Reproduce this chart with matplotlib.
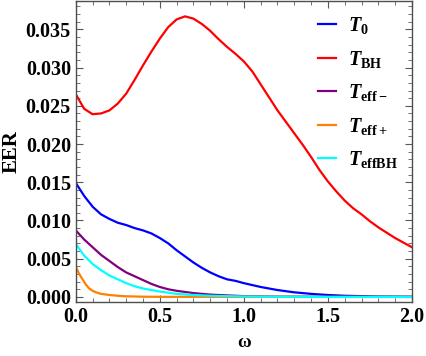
import matplotlib
matplotlib.use("Agg")
import matplotlib.pyplot as plt
from matplotlib.ticker import MultipleLocator

plt.rcParams['font.family'] = 'Liberation Serif'
plt.rcParams['font.weight'] = 'bold'
plt.rcParams['mathtext.fontset'] = 'custom'
plt.rcParams['mathtext.rm'] = 'Liberation Serif:bold'
plt.rcParams['mathtext.it'] = 'Liberation Serif:bold:italic'
plt.rcParams['mathtext.bf'] = 'Liberation Serif:bold'

## data
w_bh = [0, 0.05, 0.1, 0.15, 0.2, 0.25, 0.3, 0.35, 0.4, 0.45, 0.5, 0.55, 0.6, 0.65,
        0.7, 0.75, 0.8, 0.85, 0.9, 0.95, 1.0, 1.05, 1.1, 1.15, 1.2, 1.25, 1.3, 1.35, 1.4, 1.45,
        1.5, 1.55, 1.6, 1.65, 1.7, 1.75, 1.8, 1.85, 1.9, 1.95, 2.0]
t_bh = [0.0265, 0.0246, 0.0239, 0.0240, 0.0244, 0.0253, 0.0266, 0.0284, 0.0303, 0.0321, 0.0338,
        0.0353, 0.0363, 0.0367, 0.0364, 0.0357, 0.0348, 0.0337, 0.0327, 0.0318, 0.0308, 0.0295,
        0.0278, 0.0261, 0.0244, 0.0229, 0.0214, 0.0199, 0.0183, 0.0166, 0.0151, 0.0138, 0.0126,
        0.0116, 0.0108, 0.0099, 0.0091, 0.0084, 0.0077, 0.0071, 0.0065]

w_0 = [0, 0.05, 0.1, 0.15, 0.2, 0.25, 0.3, 0.35, 0.4, 0.45, 0.5, 0.55, 0.6, 0.65, 0.7, 0.75,
       0.8, 0.85, 0.9, 0.95, 1.0, 1.1, 1.2, 1.3, 1.4, 1.5, 1.6, 1.8, 2.0]
t_0 = [0.0149, 0.0132, 0.0118, 0.0108, 0.0102, 0.0097, 0.0094, 0.0090, 0.0087, 0.0083, 0.0077,
       0.0070, 0.0061, 0.0053, 0.0045, 0.0038, 0.0032, 0.0027, 0.0023, 0.0021, 0.0018, 0.0013,
       0.0009, 0.0006, 0.0004, 0.00025, 0.00015, 0.00005, 0.00002]

w_minus = [0, 0.05, 0.1, 0.15, 0.2, 0.25, 0.3, 0.35, 0.4, 0.45, 0.5, 0.55, 0.6, 0.7, 0.8, 0.9,
           1.0, 1.2, 1.5, 2.0]
t_minus = [0.0087, 0.0075, 0.0065, 0.0055, 0.0047, 0.0039, 0.0032, 0.0027, 0.0022, 0.0017, 0.0013,
           0.0010, 0.0008, 0.0005, 0.0003, 0.0002, 0.0001, 0.00004, 0.00001, 0.0]

w_plus = [0, 0.02, 0.04, 0.06, 0.08, 0.1, 0.12, 0.15, 0.2, 0.25, 0.3, 0.4, 0.5, 2.0]
t_plus = [0.0039, 0.0030, 0.0023, 0.0016, 0.0011, 0.0008, 0.0006, 0.0004, 0.00025, 0.00015,
          0.00008, 0.00003, 0.00001, 0.0]

w_effbh = [0, 0.05, 0.1, 0.15, 0.2, 0.25, 0.3, 0.35, 0.4, 0.45, 0.5, 0.6, 0.7, 0.8, 1.0, 1.2,
           1.5, 2.0]
t_effbh = [0.0069, 0.0054, 0.0043, 0.0035, 0.0028, 0.0023, 0.0018, 0.0014, 0.0011, 0.0009,
           0.0007, 0.0004, 0.00025, 0.00015, 0.00005, 0.00002, 0.0, 0.0]

fig = plt.figure(figsize=(4.26, 3.56), dpi=100)
ax = fig.add_axes([0.178, 0.152, 0.789, 0.845])

lw = 1.6
ax.plot(w_0, t_0, color=(0, 0, 1), lw=lw, label=r'$T_{0}$')
ax.plot(w_bh, t_bh, color=(1, 0, 0), lw=lw, label=r'$T_{\mathrm{BH}}$')
ax.plot(w_minus, t_minus, color=(0.5, 0, 0.5), lw=lw, label=r'$T_{\mathrm{eff}-}$')
ax.plot(w_plus, t_plus, color=(1, 0.5, 0), lw=lw, label=r'$T_{\mathrm{eff}+}$')
ax.plot(w_effbh, t_effbh, color=(0, 1, 1), lw=lw, label=r'$T_{\mathrm{effBH}}$')

ax.set_xlim(0, 2.0)
ax.set_ylim(-0.00065, 0.0387)
ax.xaxis.set_major_locator(MultipleLocator(0.5))
ax.xaxis.set_minor_locator(MultipleLocator(0.1))
ax.yaxis.set_major_locator(MultipleLocator(0.005))
ax.yaxis.set_minor_locator(MultipleLocator(0.001))
ax.xaxis.set_major_formatter(lambda v, p: f"{v:.1f}")
ax.yaxis.set_major_formatter(lambda v, p: f"{v:.3f}")

for s in ax.spines.values():
    s.set_color('0.3')
    s.set_linewidth(1.0)
ax.tick_params(which='both', direction='in', top=True, right=True, color='0.35', labelsize=14.5)
ax.tick_params(which='major', length=5, width=0.8)
ax.tick_params(which='minor', length=3, width=0.6)

ax.set_xlabel('ω', fontsize=13.5, fontweight='bold', labelpad=5)
ax.set_ylabel('EER', fontsize=15, fontweight='bold', labelpad=3)

ax.legend(loc='upper right', frameon=False, fontsize=14.5, handlelength=0.9,
          handletextpad=0.6, labelspacing=0.62, borderaxespad=0.3,
          bbox_to_anchor=(1.0, 1.0))

fig.savefig('out.png', dpi=100)
